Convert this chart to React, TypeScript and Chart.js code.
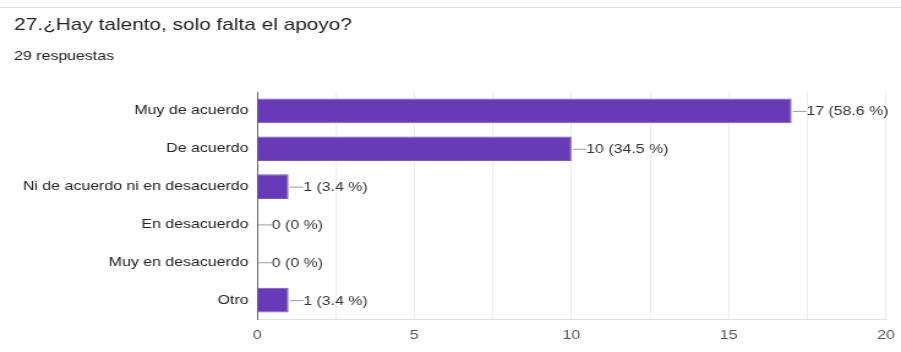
import React, { useEffect, useRef } from "react";
import { Chart, registerables } from "chart.js";

Chart.register(...registerables);

const title = "27.¿Hay talento, solo falta el apoyo?";
const subtitle = "29 respuestas";
const categories = [
  "Muy de acuerdo",
  "De acuerdo",
  "Ni de acuerdo ni en desacuerdo",
  "En desacuerdo",
  "Muy en desacuerdo",
  "Otro",
];
const counts = [17, 10, 1, 0, 0, 1];
const percents = ["58.6", "34.5", "3.4", "0", "0", "3.4"];
const xLabeledTicks = [0, 5, 10, 15, 20];

const FONT = "Arial, 'Liberation Sans', sans-serif";
// the reference is a horizontally stretched screenshot
const INNER_W = 736;
const STRETCH = 901 / INNER_W;

export default function App() {
  const ref = useRef<HTMLCanvasElement | null>(null);

  useEffect(() => {
    document.body.style.margin = "0";
    const canvas = ref.current;
    if (!canvas) return;

    const decor = {
      id: "decor",
      afterDraw(chart: any) {
        const ctx = chart.ctx;
        ctx.save();
        ctx.strokeStyle = "#e0e0e0";
        ctx.lineWidth = 1;
        ctx.beginPath();
        ctx.moveTo(0, 7.5);
        ctx.lineTo(chart.width, 7.5);
        ctx.stroke();
        ctx.fillStyle = "#202124";
        ctx.textAlign = "left";
        ctx.textBaseline = "alphabetic";
        ctx.font = `17px ${FONT}`;
        ctx.fillText(title, 11.5, 30);
        ctx.font = `13px ${FONT}`;
        ctx.fillText(subtitle, 11.5, 60);
        ctx.restore();
      },
      afterDatasetsDraw(chart: any) {
        const ctx = chart.ctx;
        const meta = chart.getDatasetMeta(0);
        ctx.save();
        ctx.font = `13px ${FONT}`;
        ctx.textAlign = "left";
        ctx.textBaseline = "middle";
        meta.data.forEach((el: any, i: number) => {
          const x = el.x;
          const y = el.y;
          ctx.strokeStyle = "#9e9e9e";
          ctx.lineWidth = 1;
          ctx.beginPath();
          ctx.moveTo(x + 1, y + 0.5);
          ctx.lineTo(x + 12, y + 0.5);
          ctx.stroke();
          ctx.fillStyle = "#333";
          ctx.fillText(`${counts[i]} (${percents[i]} %)`, x + 12, y + 1);
        });
        ctx.restore();
      },
    };

    const chart = new Chart(canvas, {
      type: "bar",
      data: {
        labels: categories,
        datasets: [
          {
            data: counts,
            backgroundColor: "#673ab7",
            borderColor: "#7e57c2",
            borderWidth: 1,
            barPercentage: 0.65,
            categoryPercentage: 1,
          },
        ],
      },
      options: {
        indexAxis: "y",
        animation: false,
        responsive: true,
        maintainAspectRatio: false,
        devicePixelRatio: 1,
        layout: { padding: { top: 92, right: 12.3, left: 0, bottom: 0 } },
        plugins: {
          legend: { display: false },
          tooltip: { enabled: false },
        },
        scales: {
          x: {
            min: 0,
            max: 20,
            ticks: {
              stepSize: 2.5,
              autoSkip: false,
              maxRotation: 0,
              padding: 0,
              color: "#555",
              font: { family: FONT, size: 13, lineHeight: 2.6 },
              callback: (v: any) =>
                xLabeledTicks.includes(Number(v)) ? String(v) : "",
            },
            grid: { color: "#ebebeb", drawTicks: false },
            border: { color: "#e0e0e0", width: 1 },
            afterFit: (scale: any) => {
              scale.height = 33;
            },
          },
          y: {
            ticks: {
              padding: 7,
              color: "#222",
              font: { family: FONT, size: 13 },
            },
            grid: { display: false, drawTicks: false },
            border: { color: "#666", width: 1 },
            afterFit: (scale: any) => {
              scale.width = 210;
            },
          },
        },
      },
      plugins: [decor],
    });

    return () => chart.destroy();
  }, []);

  return (
    <div style={{ width: 901, height: 352, overflow: "hidden", background: "#fff" }}>
      <div
        style={{
          position: "relative",
          width: INNER_W,
          height: 352,
          transform: `scaleX(${STRETCH})`,
          transformOrigin: "0 0",
        }}
      >
        <canvas ref={ref} />
      </div>
    </div>
  );
}
